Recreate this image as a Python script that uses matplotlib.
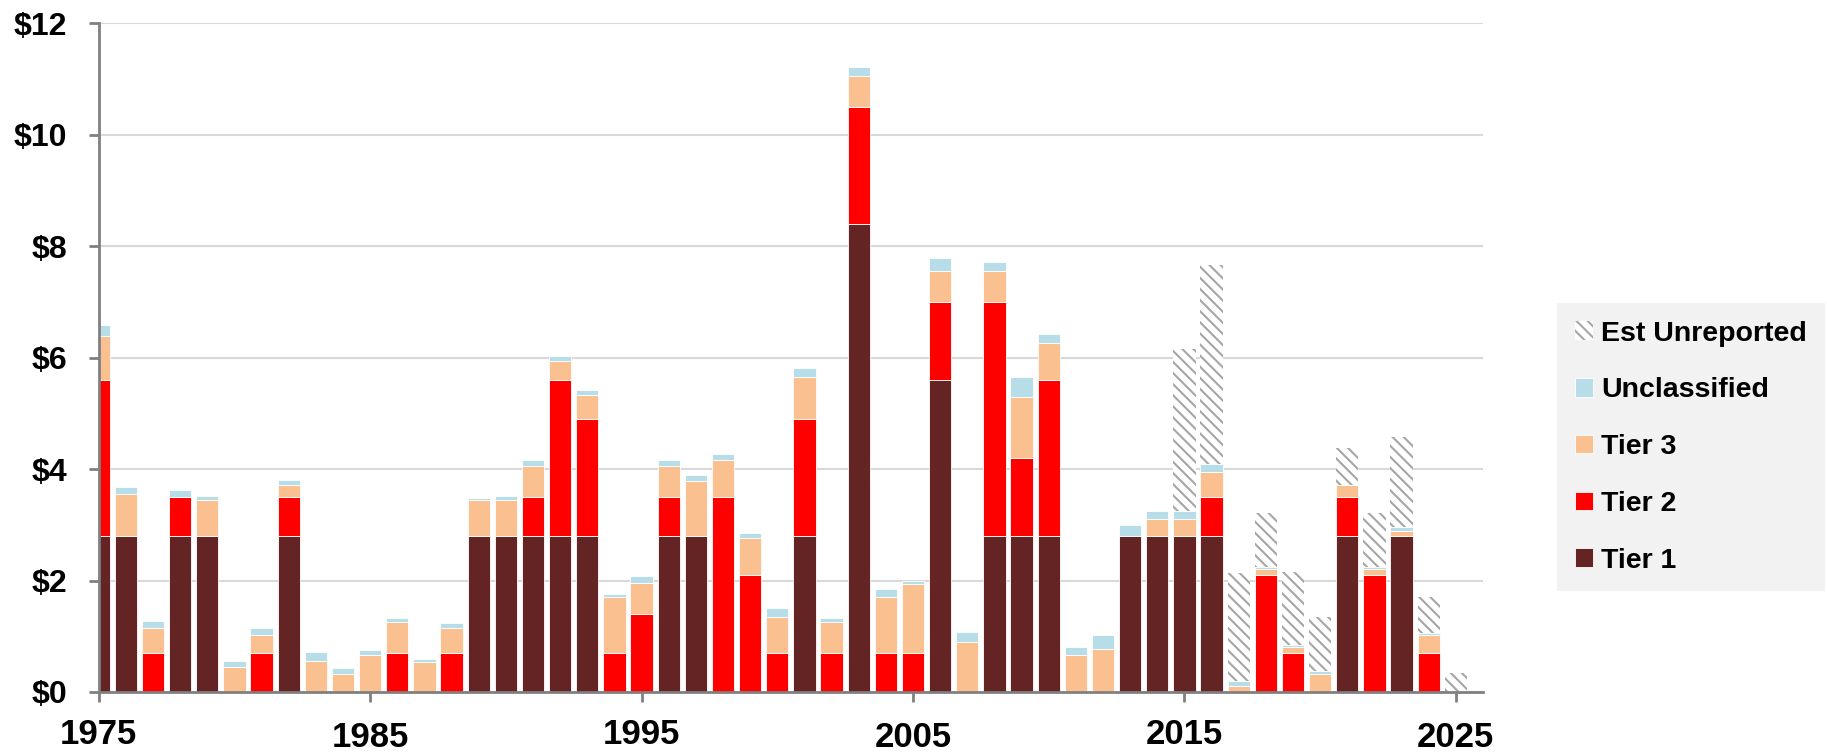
import matplotlib
matplotlib.use("Agg")
import matplotlib.pyplot as plt
import matplotlib.transforms as mtransforms
import numpy as np

years = list(range(1975, 2026))

tier1 = [2.8, 2.8, 0, 2.8, 2.8, 0, 0, 2.8, 0, 0,
         0, 0, 0, 0, 2.8, 2.8, 2.8, 2.8, 2.8, 0,
         0, 2.8, 2.8, 0, 0, 0, 2.8, 0, 8.4, 0,
         0, 5.6, 0, 2.8, 2.8, 2.8, 0, 0, 2.8, 2.8,
         2.8, 2.8, 0, 0, 0, 0, 2.8, 0, 2.8, 0,
         0]
tier2 = [2.8, 0, 0.7, 0.7, 0, 0, 0.7, 0.7, 0, 0,
         0, 0.7, 0, 0.7, 0, 0, 0.7, 2.8, 2.1, 0.7,
         1.4, 0.7, 0, 3.5, 2.1, 0.7, 2.1, 0.7, 2.1, 0.7,
         0.7, 1.4, 0, 4.2, 1.4, 2.8, 0, 0, 0, 0,
         0, 0.7, 0, 2.1, 0.7, 0, 0.7, 2.1, 0, 0.7,
         0]
tier3 = [0.78, 0.75, 0.44, 0, 0.64, 0.44, 0.33, 0.22, 0.55, 0.33,
         0.67, 0.55, 0.54, 0.44, 0.64, 0.64, 0.56, 0.34, 0.43, 1.0,
         0.56, 0.56, 0.99, 0.67, 0.66, 0.65, 0.75, 0.55, 0.55, 1.0,
         1.23, 0.55, 0.89, 0.55, 1.1, 0.67, 0.67, 0.77, 0, 0.31,
         0.31, 0.44, 0.10, 0.10, 0.10, 0.33, 0.21, 0.10, 0.09, 0.33,
         0]
unclassified = [0.21, 0.12, 0.14, 0.13, 0.07, 0.12, 0.11, 0.09, 0.16, 0.10,
                0.08, 0.08, 0.05, 0.10, 0.05, 0.07, 0.11, 0.09, 0.09, 0.05,
                0.13, 0.11, 0.10, 0.10, 0.10, 0.16, 0.16, 0.07, 0.16, 0.15,
                0.06, 0.23, 0.19, 0.17, 0.35, 0.15, 0.14, 0.26, 0.20, 0.14,
                0.13, 0.16, 0.09, 0.05, 0.05, 0.04, 0, 0.05, 0.07, 0.03,
                0]
est_unreported = [0] * 40 + [2.92, 3.57, 1.95, 0.97, 1.31, 0.97, 0.66, 0.97, 1.62, 0.64, 0.34]

series = [
    ("Tier 1", tier1, "#632423"),
    ("Tier 2", tier2, "#ff0000"),
    ("Tier 3", tier3, "#fac090"),
    ("Unclassified", unclassified, "#b7dde8"),
]

plt.rcParams["font.family"] = ["Liberation Sans", "DejaVu Sans"]
plt.rcParams["hatch.linewidth"] = 1.5

fig = plt.figure(figsize=(18.27, 7.53), dpi=100)
ax = fig.add_axes([98.7 / 1827, 61 / 753, (1483 - 98.7) / 1827, (692 - 23.3) / 753])

width = 0.82
bottom = np.zeros(len(years))
handles = []
for name, vals, color in series:
    h = ax.bar(years, vals, width, bottom=bottom, color=color,
               edgecolor="white", linewidth=0.6, label=name)
    handles.append(h)
    bottom += np.array(vals)

h_est = ax.bar(years, est_unreported, width, bottom=bottom, facecolor="white",
               edgecolor="#a6a6a6", linewidth=0, hatch="\\\\\\", label="Est Unreported")
handles.append(h_est)

ax.set_xlim(1975, 2026)
ax.set_ylim(0, 12)
ax.set_yticks(range(0, 13, 2))
ax.set_yticklabels([f"${v}" for v in range(0, 13, 2)])
ax.set_xticks(range(1975, 2026, 10))
ax.set_xticklabels([str(y) for y in range(1975, 2026, 10)])

ax.set_axisbelow(True)
ax.yaxis.grid(True, color="#d9d9d9", linewidth=1.5)
for s in ["top", "right"]:
    ax.spines[s].set_visible(False)
for s in ["left", "bottom"]:
    ax.spines[s].set_color("#808080")
    ax.spines[s].set_linewidth(2)

ax.tick_params(axis="both", direction="out", length=7.5, width=2, color="#808080")
ax.tick_params(axis="y", pad=15, labelsize=23)
ax.tick_params(axis="x", pad=11, labelsize=25)
for lbl in ax.get_yticklabels() + ax.get_xticklabels():
    lbl.set_fontweight("bold")

# every other decade label sits a little lower
for i, lbl in enumerate(ax.get_xticklabels()):
    if i % 2 == 1:
        lbl.set_transform(lbl.get_transform() +
                          mtransforms.ScaledTranslation(0, -3 / 100, fig.dpi_scale_trans))

leg = fig.legend(handles[::-1], [h.get_label() for h in handles[::-1]],
                 loc="upper left", bbox_to_anchor=(1557 / 1827, 1 - 303 / 753),
                 borderaxespad=0, frameon=True, fancybox=False,
                 facecolor="#f2f2f2", edgecolor="none", framealpha=1,
                 prop={"weight": "bold", "size": 20.5},
                 handlelength=0.63, handleheight=0.63, handletextpad=0.3,
                 labelspacing=1.08, borderpad=0.62)

fig.savefig("out.png", dpi=100)
